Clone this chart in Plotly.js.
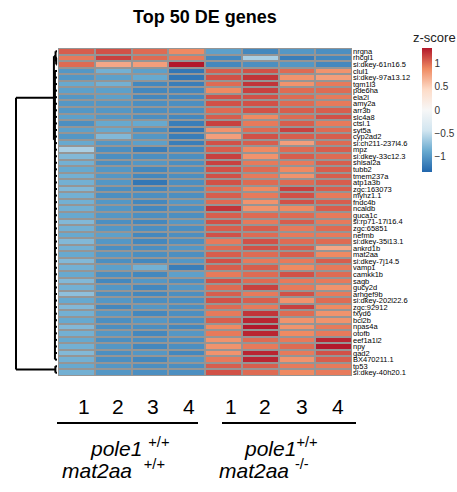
<!DOCTYPE html>
<html>
<head>
<meta charset="utf-8">
<script src="https://cdn.plot.ly/plotly-3.0.1.min.js"></script>
<style>
  html, body { margin: 0; padding: 0; background: #ffffff; }
  #chart { width: 457px; height: 492px; }
</style>
</head>
<body>
<div id="chart"></div>
<script>
// Row-scaled expression (z-score) of the top 50 differentially expressed genes
const genes = [
  'nrgna', 'rhcgl1', 'si:dkey-61n16.5', 'clul1', 'si:dkey-97a13.12',
  'tgm1l3', 'pde6ha', 'ela2l', 'amy2a', 'arr3b',
  'slc4a8', 'ctsl.1', 'syt5a', 'cyp2ad2', 'si:ch211-237l4.6',
  'mpz', 'si:dkey-33c12.3', 'shisal2a', 'tubb2', 'tmem237a',
  'atp1a3b', 'zgc:163073', 'myhz1.1', 'fndc4b', 'ncaldb',
  'guca1c', 'si:rp71-17i16.4', 'zgc:65851', 'nefmb', 'si:dkey-35i13.1',
  'ankrd1b', 'mat2aa', 'si:dkey-7j14.5', 'vamp1', 'camkk1b',
  'sagb', 'gucy2d', 'arhgef9b', 'si:dkey-202l22.6', 'zgc:92912',
  'fxyd6', 'bcl2b', 'npas4a', 'otofb', 'eef1a1l2',
  'npy', 'gad2', 'BX470211.1', 'tp53', 'si:dkey-40h20.1'
];

// pole1 +/+ ; mat2aa +/+  (replicates 1-4)
const wt1 = [
  1.05, 0.94, 1.00, -1.00, -1.00, -0.88, -0.94, -1.00, -1.00, -1.00,
  -0.94, -1.05, -0.94, -1.00, -0.88, -0.60, -0.77, -0.83, -0.88, -0.83,
  -0.83, -0.77, -0.83, -0.83, -0.83, -0.88, -0.77, -0.83, -0.88, -0.77,
  -0.83, -0.88, -0.77, -0.83, -0.88, -0.77, -0.83, -0.72, -0.88, -0.77,
  -0.83, -0.88, -0.77, -0.83, -0.88, -0.83, -0.77, -0.83, -0.88, -0.83
];
const wt2 = [
  1.10, 1.16, 0.72, -0.83, -0.94, -0.83, -0.94, -0.94, -1.00, -1.00,
  -1.00, -0.88, -0.88, -0.77, -1.00, -1.05, -1.05, -1.05, -1.00, -1.00,
  -1.00, -1.05, -1.05, -1.00, -1.00, -1.00, -1.05, -1.00, -0.94, -1.00,
  -1.05, -1.00, -1.05, -0.94, -1.05, -1.10, -1.00, -1.05, -1.00, -1.10,
  -1.00, -1.05, -1.05, -1.00, -1.05, -1.00, -1.05, -1.05, -1.00, -1.00
];
const wt3 = [
  1.00, 1.00, 0.77, -0.94, -0.88, -1.10, -1.10, -1.10, -1.05, -1.05,
  -1.05, -0.88, -1.05, -1.00, -0.94, -1.16, -1.05, -1.00, -1.10, -1.10,
  -1.21, -1.10, -1.05, -1.10, -1.10, -1.05, -1.10, -1.05, -1.10, -1.10,
  -1.05, -1.05, -1.10, -0.83, -1.10, -1.00, -1.10, -1.10, -1.05, -1.00,
  -1.10, -1.00, -1.05, -1.10, -1.05, -1.10, -1.00, -1.10, -1.05, -1.05
];
const wt4 = [
  0.88, 0.94, 1.32, -1.21, -1.21, -1.16, -1.10, -1.10, -1.05, -1.05,
  -1.10, -1.16, -1.21, -1.16, -1.16, -1.10, -1.05, -1.05, -1.05, -1.05,
  -1.05, -1.05, -1.05, -1.00, -1.05, -1.05, -1.00, -1.05, -1.05, -1.05,
  -1.00, -1.05, -1.00, -1.16, -0.94, -1.05, -1.00, -1.05, -1.05, -1.05,
  -1.05, -1.05, -1.10, -1.00, -1.05, -1.05, -1.10, -1.00, -1.05, -1.05
];

// pole1 +/+ ; mat2aa -/-  (replicates 1-4)
const mut1 = [
  -0.94, -1.10, -1.10, 1.05, 1.10, 1.00, 0.88, 1.10, 1.10, 1.00,
  1.05, 1.16, 0.83, 0.77, 1.10, 1.05, 1.16, 1.16, 1.10, 1.10,
  1.10, 1.00, 1.05, 1.00, 1.21, 1.05, 1.10, 1.05, 1.10, 0.94,
  1.00, 1.05, 1.10, 1.05, 0.94, 1.10, 1.00, 1.05, 1.10, 1.00,
  0.94, 1.05, 0.88, 0.94, 0.83, 0.83, 0.83, 0.94, 1.05, 1.10
];
const mut2 = [
  -1.10, -0.60, -1.05, 1.10, 1.21, 1.21, 1.16, 1.10, 1.10, 1.10,
  0.88, 0.94, 1.00, 1.10, 1.05, 0.88, 0.83, 0.94, 1.00, 0.94,
  1.00, 0.88, 0.94, 0.83, 0.83, 1.00, 0.94, 1.05, 1.00, 1.10,
  1.10, 1.00, 0.94, 1.05, 1.00, 1.00, 1.16, 0.94, 1.05, 0.94,
  1.21, 1.27, 1.32, 1.27, 1.00, 0.94, 1.27, 1.27, 1.05, 1.00
];
const mut3 = [
  -1.00, -1.16, -1.00, 1.00, 0.83, 0.83, 1.00, 1.00, 1.00, 1.05,
  1.00, 1.05, 1.16, 1.05, 0.77, 1.00, 1.05, 0.94, 0.88, 0.83,
  1.00, 1.16, 1.10, 1.10, 0.88, 1.00, 1.05, 0.94, 0.94, 1.00,
  1.05, 1.05, 0.94, 0.88, 1.10, 0.94, 0.94, 1.10, 0.83, 1.16,
  1.00, 0.83, 0.83, 0.88, 0.94, 1.00, 0.94, 0.83, 0.94, 0.88
];
const mut4 = [
  -1.05, -1.10, -1.10, 0.83, 0.77, 0.94, 1.00, 0.94, 0.94, 1.05,
  1.10, 0.94, 1.00, 1.05, 1.00, 1.05, 1.00, 1.05, 1.05, 1.05,
  1.05, 1.05, 0.94, 1.05, 1.05, 0.94, 0.94, 1.00, 0.94, 1.00,
  0.72, 0.88, 1.05, 0.94, 1.00, 0.94, 0.83, 0.94, 1.00, 0.88,
  0.83, 0.83, 0.94, 0.94, 1.27, 1.32, 1.10, 1.05, 0.94, 0.94
];

const sampleLabels = ['1', '2', '3', '4', '1', '2', '3', '4'];

// Row dendrogram: leaf groups [firstRow, lastRow, parentHeight]
const leafGroups = [[0, 0, 0.035], [1, 2, 0.02], [3, 47, 0.05], [48, 49, 0.04]];
// Merges: child A position/height, child B position/height, merge height (positions in row units)
const mergePosA = [1.5, 0.5, 48.5, 3.5, 1.25, 7.6];
const mergeHA   = [0.02, 0.035, 0.04, 0.05, 0.035, 0.075];
const mergePosB = [2.5, 2.0, 49.5, 47.5, 14.0, 49.0];
const mergeHB   = [0.02, 0.02, 0.04, 0.05, 0.05, 0.04];
const mergeH    = [0.02, 0.035, 0.04, 0.05, 0.075, 1.0];

// ---- build heatmap matrix (rows = genes, columns = samples)
const samples = [wt1, wt2, wt3, wt4, mut1, mut2, mut3, mut4];
const z = genes.map((g, i) => samples.map(s => s[i]));
const colIdx = samples.map((s, j) => j);
const rowIdx = genes.map((g, i) => i);
const zLim = 1.32;

const rdbu = ['#2166AC', '#67A9CF', '#D1E5F0', '#F7F7F7', '#FDDBC7', '#EF8A62', '#B2182B'];
const colorscale = rdbu.map((c, k) => [k / (rdbu.length - 1), c]);

// ---- build dendrogram polyline
const dx = [], dy = [];
function seg(h1, p1, h2, p2) { dx.push(h1, h2, null); dy.push(p1, p2, null); }
leafGroups.forEach(([a, b, h]) => {
  for (let r = a; r <= b; r++) seg(0, r + 0.5, h, r + 0.5);
});
mergeH.forEach((h, k) => {
  seg(mergeHA[k], mergePosA[k], h, mergePosA[k]);
  seg(h, mergePosA[k], h, mergePosB[k]);
  seg(h, mergePosB[k], mergeHB[k], mergePosB[k]);
});

// ---- geometry helpers (pixel -> paper)
const W = 457, H = 492;
const px = v => v / W;
const py = v => 1 - v / H;
const hmLeft = 58, hmRight = 352, hmTop = 48, hmBottom = 376;

const traces = [
  {
    type: 'heatmap',
    x: colIdx, y: rowIdx, z: z,
    zmin: -zLim, zmax: zLim,
    colorscale: colorscale,
    xgap: 2, ygap: 2,
    hoverinfo: 'skip',
    colorbar: {
      x: px(422), xanchor: 'left', xpad: 0,
      y: py(110), yanchor: 'middle', ypad: 0,
      len: 124, lenmode: 'pixels',
      thickness: 10, thicknessmode: 'pixels',
      outlinewidth: 0,
      ticks: '',
      tickvals: [-1, -0.5, 0, 0.5, 1],
      ticktext: ['\u22121', '\u22120.5', '0', '0.5', '1'],
      tickfont: { family: 'Liberation Sans, Arial, sans-serif', size: 10, color: '#333333' }
    }
  },
  {
    type: 'scatter', mode: 'lines',
    x: dx, y: dy, xaxis: 'x2', yaxis: 'y2',
    line: { color: '#000000', width: 2 },
    hoverinfo: 'skip', showlegend: false
  }
];

const numX = [84, 118, 153, 189, 231, 265, 302, 338];
const annotations = [
  { text: '<b>Top 50 DE genes</b>', x: px(205), y: py(17), xref: 'paper', yref: 'paper',
    xanchor: 'center', yanchor: 'middle', showarrow: false,
    font: { family: 'Liberation Sans, Arial, sans-serif', size: 18, color: '#000000' } },
  { text: 'z-score', x: px(434), y: py(37), xref: 'paper', yref: 'paper',
    xanchor: 'center', yanchor: 'middle', showarrow: false,
    font: { family: 'Liberation Sans, Arial, sans-serif', size: 13, color: '#222222' } }
];
sampleLabels.forEach((t, j) => annotations.push({
  text: t, x: px(numX[j]), y: py(406), xref: 'paper', yref: 'paper',
  xanchor: 'center', yanchor: 'middle', showarrow: false,
  font: { family: 'Liberation Sans, Arial, sans-serif', size: 21, color: '#000000' }
}));
const groupFont = { family: 'Liberation Sans, Arial, sans-serif', size: 21, color: '#000000' };
[
  ['<i>pole1</i> <sup>+/+</sup>', 88, 447],
  ['<i>mat2aa</i>  <sup>+/+</sup>', 60, 469],
  ['<i>pole1</i><sup>+/+</sup>', 242, 447],
  ['<i>mat2aa</i> <sup>-/-</sup>', 217, 469]
].forEach(([t, x, y]) => annotations.push({
  text: t, x: px(x), y: py(y), xref: 'paper', yref: 'paper',
  xanchor: 'left', yanchor: 'middle', showarrow: false, font: groupFont
}));

const shapes = [
  // cell border background behind the heatmap
  { type: 'rect', xref: 'x', yref: 'y', x0: -0.5, x1: 7.5, y0: -0.5, y1: 49.5,
    fillcolor: '#959595', line: { width: 0 }, layer: 'below' },
  // group underlines
  { type: 'line', xref: 'paper', yref: 'paper', x0: px(57), x1: px(198), y0: py(423), y1: py(423),
    line: { color: '#000000', width: 2 } },
  { type: 'line', xref: 'paper', yref: 'paper', x0: px(222), x1: px(356), y0: py(423), y1: py(423),
    line: { color: '#000000', width: 2 } }
];

const layout = {
  width: W, height: H,
  margin: { l: 0, r: 0, t: 0, b: 0, pad: 0 },
  paper_bgcolor: '#ffffff', plot_bgcolor: 'rgba(0,0,0,0)',
  showlegend: false,
  xaxis: {
    domain: [px(hmLeft), px(hmRight)], range: [-0.5, 7.5],
    showticklabels: false, showgrid: false, zeroline: false, ticks: '', showline: false, fixedrange: true
  },
  yaxis: {
    domain: [py(hmBottom), py(hmTop)], range: [49.5, -0.5],
    side: 'right', tickmode: 'array', tickvals: rowIdx, ticktext: genes,
    ticks: '', ticklen: 0, showgrid: false, zeroline: false, showline: false,
    tickfont: { family: 'Liberation Sans, Arial, sans-serif', size: 7.5, color: '#000000' },
    fixedrange: true
  },
  xaxis2: {
    domain: [0, px(hmLeft)], range: [1 + 16 / 41, -1 / 41], anchor: 'y2',
    visible: false, fixedrange: true
  },
  yaxis2: {
    domain: [py(hmBottom), py(hmTop)], range: [50, 0], anchor: 'x2',
    visible: false, fixedrange: true
  },
  annotations: annotations,
  shapes: shapes
};

Plotly.newPlot('chart', traces, layout, { displayModeBar: false, staticPlot: true });
</script>
</body>
</html>
